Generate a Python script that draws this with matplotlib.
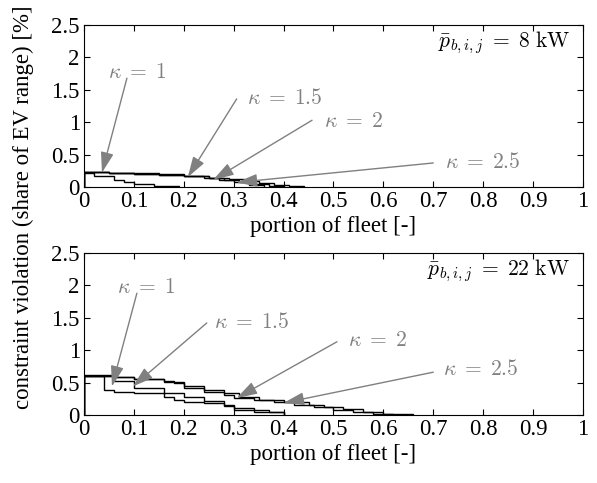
import numpy as np
import matplotlib
matplotlib.use("Agg")
import matplotlib.pyplot as plt

plt.rcParams["font.family"] = ["Liberation Serif", "DejaVu Serif"]
plt.rcParams["mathtext.fontset"] = "cm"
plt.rcParams["font.size"] = 16.5

# step curves of constraint violation over the sorted fleet (8 kW charging)
edges_8_k1 = [0, 0.02, 0.06, 0.08, 0.10, 0.14, 0.19]
vals_8_k1 = [0.22, 0.17, 0.11, 0.08, 0.045, 0.015]
edges_8_k15 = [0, 0.05, 0.10, 0.15, 0.20, 0.24, 0.27, 0.30, 0.33, 0.36]
vals_8_k15 = [0.23, 0.215, 0.20, 0.185, 0.165, 0.14, 0.11, 0.07, 0.03]
edges_8_k2 = [0, 0.05, 0.10, 0.15, 0.20, 0.25, 0.28, 0.31, 0.34, 0.37, 0.40]
vals_8_k2 = [0.235, 0.22, 0.205, 0.19, 0.17, 0.14, 0.11, 0.08, 0.05, 0.02]
edges_8_k25 = [0, 0.05, 0.10, 0.15, 0.20, 0.25, 0.29, 0.32, 0.35, 0.38, 0.41, 0.44]
vals_8_k25 = [0.235, 0.222, 0.208, 0.192, 0.172, 0.145, 0.115, 0.085, 0.055, 0.03, 0.01]

# 22 kW charging
edges_22_k1 = [0, 0.04, 0.06, 0.10, 0.16, 0.18, 0.20, 0.24, 0.28, 0.30, 0.34, 0.40]
vals_22_k1 = [0.60, 0.39, 0.36, 0.335, 0.28, 0.23, 0.205, 0.18, 0.13, 0.08, 0.05]
edges_22_k15 = [0, 0.06, 0.10, 0.16, 0.20, 0.24, 0.28, 0.30, 0.34, 0.37, 0.40]
vals_22_k15 = [0.60, 0.53, 0.41, 0.335, 0.28, 0.21, 0.155, 0.10, 0.07, 0.04]
edges_22_k2 = [0, 0.06, 0.10, 0.16, 0.20, 0.24, 0.28, 0.30, 0.34, 0.38, 0.42,
               0.46, 0.50, 0.54, 0.58, 0.62]
vals_22_k2 = [0.60, 0.58, 0.55, 0.51, 0.41, 0.36, 0.30, 0.26, 0.23, 0.20, 0.16,
              0.12, 0.08, 0.05, 0.02]
edges_22_k25 = [0, 0.06, 0.10, 0.16, 0.18, 0.20, 0.24, 0.28, 0.31, 0.35, 0.40,
                0.45, 0.48, 0.52, 0.56, 0.60, 0.66]
vals_22_k25 = [0.61, 0.59, 0.56, 0.52, 0.49, 0.44, 0.39, 0.34, 0.27, 0.23, 0.20,
               0.155, 0.12, 0.085, 0.05, 0.015]

kappa_labels = [r"$\kappa\;=\;1$", r"$\kappa\;=\;1.5$", r"$\kappa\;=\;2$", r"$\kappa\;=\;2.5$"]

# (label position, arrow tail, arrow tip)
notes_8 = [
    ((0.048, 1.76), (0.086, 1.68), (0.036, 0.22)),
    ((0.326, 1.36), (0.306, 1.36), (0.208, 0.15)),
    ((0.48, 1.00), (0.457, 1.03), (0.259, 0.11)),
    ((0.724, 0.37), (0.70, 0.37), (0.306, 0.07)),
]
notes_22 = [
    ((0.066, 1.96), (0.106, 1.88), (0.056, 0.44)),
    ((0.26, 1.42), (0.246, 1.42), (0.098, 0.44)),
    ((0.53, 1.13), (0.507, 1.13), (0.306, 0.26)),
    ((0.72, 0.69), (0.70, 0.66), (0.40, 0.185)),
]

xticks = np.round(np.arange(0, 1.01, 0.1), 1)
xlabels = ["0"] + ["%.1f" % v for v in xticks[1:-1]] + ["1"]
yticks = [0, 0.5, 1, 1.5, 2, 2.5]
ylabels = ["0", "0.5", "1", "1.5", "2", "2.5"]

grey = "#808080"

fig = plt.figure(figsize=(5.97, 4.83), dpi=100)
ax1 = fig.add_axes([0.1407, 0.613, 0.8358, 0.335])
ax2 = fig.add_axes([0.1407, 0.141, 0.8358, 0.335])

panels = [
    (ax1, [(edges_8_k1, vals_8_k1), (edges_8_k15, vals_8_k15),
           (edges_8_k2, vals_8_k2), (edges_8_k25, vals_8_k25)],
     notes_8, r"$\bar{p}_{b,i,j}\;=\;8\ \mathrm{kW}$"),
    (ax2, [(edges_22_k1, vals_22_k1), (edges_22_k15, vals_22_k15),
           (edges_22_k2, vals_22_k2), (edges_22_k25, vals_22_k25)],
     notes_22, r"$\bar{p}_{b,i,j}\;=\;22\ \mathrm{kW}$"),
]

for ax, curves, notes, power in panels:
    for edges, vals in curves:
        ax.stairs(vals, edges, color="k", lw=1.0)
    for lab, (tpos, tail, tip) in zip(kappa_labels, notes):
        ax.annotate("", xy=tip, xytext=tail,
                    arrowprops=dict(arrowstyle="-|>,head_length=0.7,head_width=0.22",
                                    color=grey, lw=1, mutation_scale=18,
                                    shrinkA=0, shrinkB=0))
        ax.text(tpos[0], tpos[1], lab, color=grey, fontsize=15.5, va="center", ha="left")
    ax.text(0.974, 2.22, power, fontsize=15.5, ha="right", va="center")

    ax.set_xlim(0, 1)
    ax.set_ylim(0, 2.5)
    ax.set_xticks(xticks, xlabels)
    ax.set_yticks(yticks, ylabels)
    ax.tick_params(direction="in", top=True, right=True, length=4, width=0.8, pad=3)
    ax.set_xlabel("portion of fleet [-]", labelpad=3)

fig.text(0.04, 0.572, "constraint violation (share of EV range) [%]",
         rotation=90, ha="center", va="center")

fig.savefig("out.png", dpi=100)
